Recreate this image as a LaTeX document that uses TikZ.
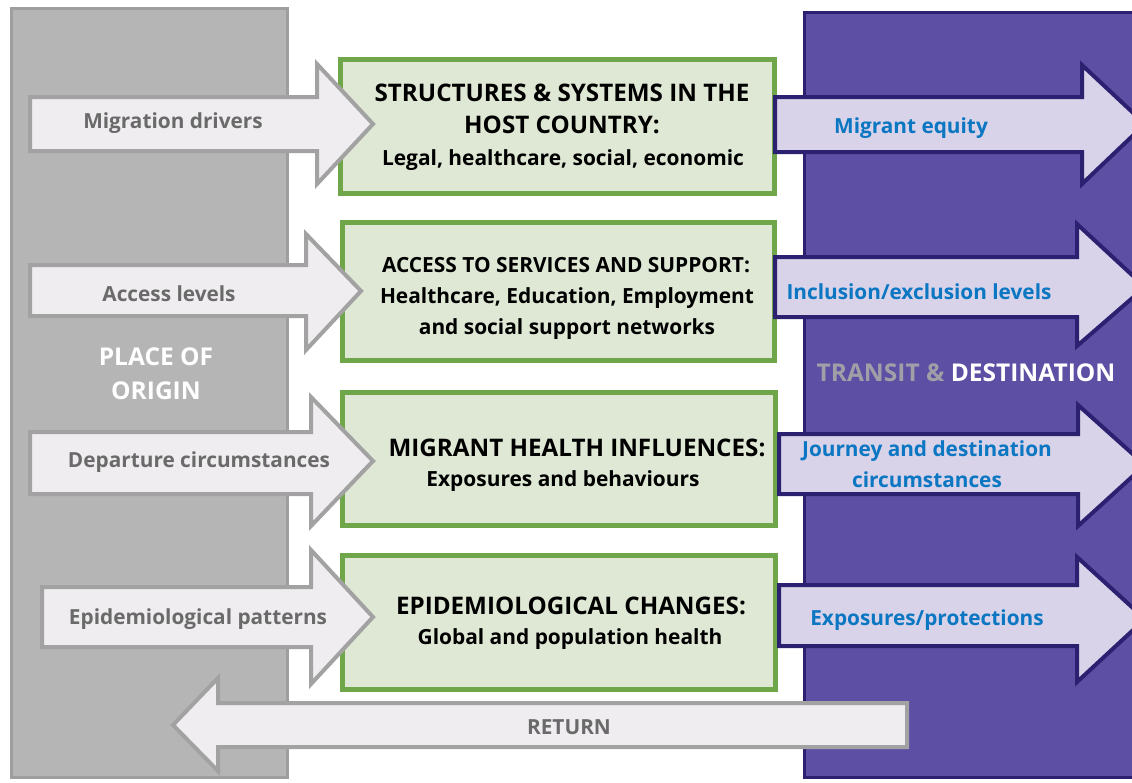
\documentclass[tikz,border=0pt]{standalone}
\usepackage{fontspec}
\setmainfont{Open Sans}
\definecolor{colgray}{HTML}{B6B5B6}
\definecolor{colgrayb}{HTML}{9E9E9E}
\definecolor{larrowfill}{HTML}{EFEDEF}
\definecolor{larrowline}{HTML}{A3A2A3}
\definecolor{greenfill}{HTML}{DEE8D4}
\definecolor{greenline}{HTML}{70A64A}
\definecolor{purplefill}{HTML}{5C4FA4}
\definecolor{purpleline}{HTML}{2C2070}
\definecolor{rarrowfill}{HTML}{D8D3E9}
\definecolor{bluetext}{HTML}{0B76C1}
\definecolor{graytext}{HTML}{6A6A6A}
\definecolor{transgray}{HTML}{A09EA6}
\tikzset{
  column/.style={line width=3pt},
  gbox/.style={fill=greenfill, draw=greenline, line width=5pt},
  larrow/.style={fill=larrowfill, draw=larrowline, line width=4pt, line join=miter},
  rarrow/.style={fill=rarrowfill, draw=purpleline, line width=4pt, line join=miter},
  ltext/.style={anchor=base, text=graytext, font=\bfseries\fontsize{20.8}{24}\selectfont, inner sep=0pt},
  rtext/.style={anchor=base, text=bluetext, font=\bfseries\fontsize{20.8}{24}\selectfont, inner sep=0pt},
  gtitle/.style={anchor=base, text=black, font=\bfseries\fontsize{24.2}{28}\selectfont, inner sep=0pt},
  gsub/.style={anchor=base, text=black, font=\bfseries\fontsize{20.9}{24}\selectfont, inner sep=0pt},
  coltext/.style={anchor=base, font=\bfseries\fontsize{24.5}{28}\selectfont, inner sep=0pt},
}
% right-pointing arrow: style, x0, shaft top, shaft bottom, head base x, head top, head bottom, tip x, tip y
\newcommand\myrarrow[9]{\draw[#1] (#2,#3) -- (#5,#3) -- (#5,#6) -- (#8,#9) -- (#5,#7) -- (#5,#4) -- (#2,#4) -- cycle;}
\begin{document}
\begin{tikzpicture}[x=1pt,y=-1pt]
\useasboundingbox (0,0) rectangle (1132,782);
\fill[white] (0,0) rectangle (1132,782);
% columns
\draw[column, fill=colgray, draw=colgrayb] (11.5,8.5) rectangle (287.5,777.5);
\draw[column, fill=purplefill, draw=purpleline] (804.5,12.5) rectangle (1140,777.5);
% green boxes
\draw[gbox] (340.5,59.5) rectangle (774.5,193.5);
\draw[gbox] (342.5,222.5) rectangle (774.5,360.5);
\draw[gbox] (342.5,392.5) rectangle (775.5,525.5);
\draw[gbox] (342.5,555.5) rectangle (775.5,689.5);
% left arrows
\myrarrow{larrow}{30}{97}{151}{317}{64}{184}{373}{124}
\myrarrow{larrow}{30}{265}{316}{306}{234}{350}{361}{291}
\myrarrow{larrow}{30}{432}{494}{311}{397}{526}{373}{461}
\myrarrow{larrow}{42}{587}{647}{311}{550}{684}{373}{617}
% right arrows
\myrarrow{rarrow}{775}{97}{152}{1082}{65}{184}{1145}{124}
\myrarrow{rarrow}{775}{257}{317}{1077}{224}{346}{1145}{287}
\myrarrow{rarrow}{779}{434}{494}{1078}{405}{526}{1145}{465}
\myrarrow{rarrow}{779}{585}{646}{1077}{557}{682}{1145}{619}
% return arrow
\draw[larrow] (907,703) -- (218,703) -- (218,678) -- (173,725) -- (218,771) -- (218,747) -- (907,747) -- cycle;
% column labels
\node[coltext, text=white] (po1) at (156,365) {PLACE OF};
\node[coltext, text=white] (po2) at (156,399) {ORIGIN};
\node[coltext] (td) at (966,381) {\textcolor{transgray}{TRANSIT \&} \textcolor{white}{DESTINATION}};
% left labels
\node[ltext] (l1) at (173,128) {Migration drivers};
\node[ltext] (l2) at (169,301) {Access levels};
\node[ltext] (l3) at (199,467) {Departure circumstances};
\node[ltext] (l4) at (198,624) {Epidemiological patterns};
% right labels
\node[rtext] (r1) at (911,133) {Migrant equity};
\node[rtext] (r2) at (919,299) {Inclusion/exclusion levels};
\node[rtext] (r3a) at (927,456) {Journey and destination};
\node[rtext] (r3b) at (927,487) {circumstances};
\node[rtext] (r4) at (927,625) {Exposures/protections};
% return label
\node[ltext] (ret) at (569,734) {RETURN};
% green box texts
\node[gtitle] (g1a) at (562,101) {STRUCTURES \& SYSTEMS IN THE};
\node[gtitle] (g1b) at (562,133) {HOST COUNTRY:};
\node[gsub] (g1c) at (563,165) {Legal, healthcare, social, economic};
\node[gsub] (g2a) at (566,272) {ACCESS TO SERVICES AND SUPPORT:};
\node[gsub] (g2b) at (567,303) {Healthcare, Education, Employment};
\node[gsub] (g2c) at (567,334) {and social support networks};
\node[gtitle] (g3a) at (577,456) {MIGRANT HEALTH INFLUENCES:};
\node[gsub] (g3b) at (563,486) {Exposures and behaviours};
\node[gtitle] (g4a) at (571,614) {EPIDEMIOLOGICAL CHANGES:};
\node[gsub] (g4b) at (570,644) {Global and population health};
\end{tikzpicture}
\end{document}
